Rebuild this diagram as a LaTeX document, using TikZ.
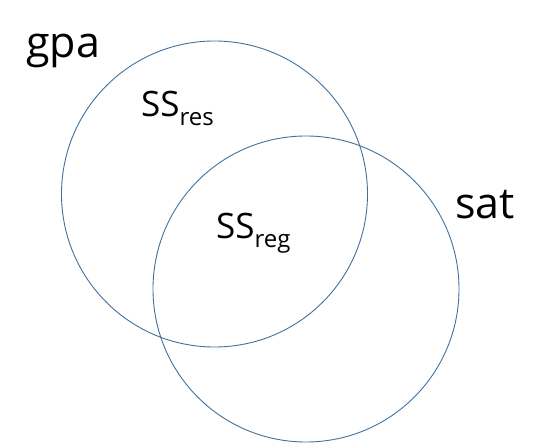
\documentclass[tikz,border=0pt]{standalone}
\usepackage{fontspec}
\setmainfont{Open Sans}
\definecolor{circ}{HTML}{41719C}
\begin{document}
\begin{tikzpicture}[x=1pt,y=-1pt,
  vc/.style={draw=circ,line width=0.9pt},
  big/.style={anchor=base west,inner sep=0pt,font=\fontsize{43}{43}\selectfont},
  ss/.style={anchor=base west,inner sep=0pt,font=\fontsize{35}{35}\selectfont}]
\useasboundingbox (0,0) rectangle (552,443);
\newcommand\subt[1]{\raisebox{-9pt}{\fontsize{24}{24}\selectfont #1}}
\draw[vc] (214.5,194) circle (153);
\draw[vc] (306,289) circle (153);
\node[big] (gpa) at (26,58) {gpa};
\node[big] (sat) at (455,219) {sat};
\node[ss] (res) at (141,117) {SS\subt{res}};
\node[ss] (reg) at (216,238.3) {SS\subt{reg}};
\end{tikzpicture}
\end{document}
